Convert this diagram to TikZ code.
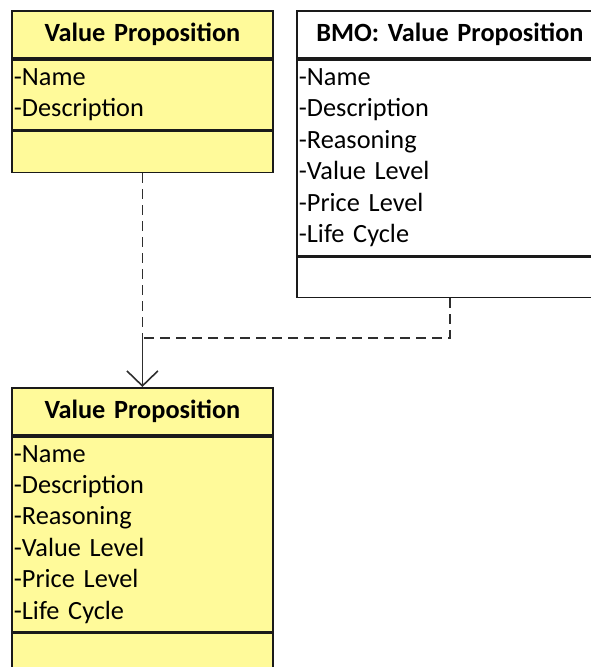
\documentclass[tikz,border=0pt]{standalone}
\usepackage{fontspec}
\setmainfont{Carlito}[WordSpace=0.72]
\usetikzlibrary{arrows.meta}
\definecolor{classyellow}{HTML}{FFFA9A}
\definecolor{edge}{HTML}{1A1A1A}
\definecolor{dashgrey}{HTML}{2E2E2E}
\newcommand{\cellfont}{\fontsize{26.3}{31.4}\selectfont}
\tikzset{
  compart/.style={draw=edge, line width=1.8pt, anchor=north west,
    inner xsep=2pt, inner ysep=0pt, font=\cellfont},
  headcell/.style={compart, align=center, font=\cellfont\bfseries},
  attrcell/.style={compart, align=left},
  yellowclass/.style={fill=classyellow},
  whiteclass/.style={fill=white},
  realize/.style={draw=dashgrey, line width=1.8pt, dash pattern=on 10pt off 6pt},
}
\begin{document}
\begin{tikzpicture}[x=1pt, y=-1pt]
\useasboundingbox (0,0) rectangle (591,667);

% generic class, two attributes
\node[headcell, yellowclass, minimum width=261pt, minimum height=47pt, text width=257pt] (a-head) at (11,10) {Value Proposition};
\node[attrcell, yellowclass, minimum width=261pt, minimum height=70pt, text width=257pt] (a-attr) at (a-head.south west) {-Name\\-Description};
\node[attrcell, yellowclass, minimum width=261pt, minimum height=41pt, text width=257pt] (a-ops) at (a-attr.south west) {};

% BMO class
\node[headcell, whiteclass, minimum width=306pt, minimum height=47pt, text width=302pt] (b-head) at (296,10) {BMO: Value Proposition};
\node[attrcell, whiteclass, minimum width=306pt, minimum height=196pt, text width=302pt] (b-attr) at (b-head.south west) {-Name\\-Description\\-Reasoning\\-Value Level\\-Price Level\\-Life Cycle};
\node[attrcell, whiteclass, minimum width=306pt, minimum height=40pt, text width=302pt] (b-ops) at (b-attr.south west) {};

% resulting class
\node[headcell, yellowclass, minimum width=261pt, minimum height=47pt, text width=257pt] (c-head) at (11,387) {Value Proposition};
\node[attrcell, yellowclass, minimum width=261pt, minimum height=195pt, text width=257pt] (c-attr) at (c-head.south west) {-Name\\-Description\\-Reasoning\\-Value Level\\-Price Level\\-Life Cycle};
\node[attrcell, yellowclass, minimum width=261pt, minimum height=50pt, text width=257pt] (c-ops) at (c-attr.south west) {};

% dependency connectors
\coordinate (join) at (a-ops.south |- 0,338);
\draw[realize] (b-ops.south) |- (join) -- (c-head.north);
\draw[realize, -{Straight Barb[length=15pt, width=31pt, line width=1.6pt]}] (a-ops.south) -- (c-head.north);
\end{tikzpicture}
\end{document}
